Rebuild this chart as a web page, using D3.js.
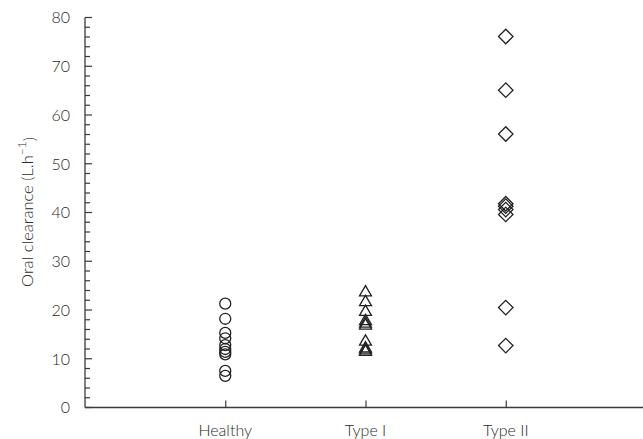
<!DOCTYPE html>
<html>
<head>
<meta charset="utf-8">
<script src="https://cdn.jsdelivr.net/npm/d3@7"></script>
<style>
  body { margin: 0; background: #fff; }
  text { font-family: Lato, "Open Sans", sans-serif; font-weight: 300; fill: #2a2a2a; }
</style>
</head>
<body>
<svg id="mysvg"></svg>
<script>
const w = 643, h = 439;

const groups = ["Healthy", "Type I", "Type II"];
const healthy = [21.3, 18.2, 15.3, 14.2, 12.8, 12.0, 11.4, 10.9, 7.5, 6.5];
const type1 = [23.8, 21.8, 19.8, 17.9, 17.4, 17.0, 13.7, 12.3, 11.9, 11.6];
const type2 = [76.1, 65.1, 56.1, 41.8, 41.3, 40.6, 39.6, 20.5, 12.7];
const yTicks = [0, 10, 20, 30, 40, 50, 60, 70, 80];

const svg = d3.select("#mysvg").attr("width", w).attr("height", h);

const xScale = d3.scaleLinear().domain([0, 4]).range([85, 646]);
const yScale = d3.scaleLinear().domain([0, 80]).range([407.5, 17.5]);

const ink = "#3a3a3a";

// Y axis ticks (minor every 2, major every 10), pointing inward
const yMinor = d3.range(0, 81, 2).filter(v => v % 10 !== 0);
svg.append("g").selectAll("line")
    .data(yMinor)
    .join("line")
    .attr("x1", 85).attr("x2", 90)
    .attr("y1", d => yScale(d)).attr("y2", d => yScale(d))
    .attr("stroke", ink).attr("stroke-width", 1.2);

svg.append("g").selectAll("line")
    .data(yTicks)
    .join("line")
    .attr("x1", 85).attr("x2", 92)
    .attr("y1", d => yScale(d)).attr("y2", d => yScale(d))
    .attr("stroke", ink).attr("stroke-width", 1.2);

svg.append("line")
    .attr("x1", 85).attr("x2", 85)
    .attr("y1", yScale(80)).attr("y2", yScale(0))
    .attr("stroke", ink).attr("stroke-width", 1.3);

svg.append("g")
    .selectAll("text")
    .data(yTicks)
    .join("text")
    .attr("x", 70)
    .attr("y", d => yScale(d))
    .attr("dy", "0.36em")
    .attr("text-anchor", "end")
    .attr("font-size", 16)
    .text(d => d);

// X axis
const xAxis = svg.append("g")
    .attr("transform", "translate(0," + yScale(0) + ")")
    .call(d3.axisTop(xScale).tickValues([1, 2, 3]).tickSize(7).tickSizeOuter(0).tickFormat(""));
xAxis.select(".domain").attr("stroke", ink).attr("stroke-width", 1.3).attr("d", "M85,0H643");
xAxis.selectAll("line").attr("stroke", ink).attr("stroke-width", 1.2);

svg.append("g")
    .selectAll("text")
    .data(groups)
    .join("text")
    .attr("x", (d, i) => xScale(i + 1))
    .attr("y", 436)
    .attr("text-anchor", "middle")
    .attr("font-size", 16)
    .text(d => d);

// Y label
const yl = svg.append("text")
    .attr("transform", "translate(33,212) rotate(-90)")
    .attr("text-anchor", "middle")
    .attr("font-size", 16.5);
yl.append("tspan").text("Oral clearance (L.h");
yl.append("tspan").attr("dy", "-0.55em").attr("font-size", 12).text("\u22121");
yl.append("tspan").attr("dy", "0.55em").text(")");

// Markers
const circle = d3.symbol().type(d3.symbolCircle).size(95);
const tri = d3.symbol().type(d3.symbolTriangle).size(62);
const diamond = d3.symbol().type(d3.symbolSquare).size(105);

svg.append("g").selectAll("path")
    .data(healthy)
    .join("path")
    .attr("d", circle)
    .attr("transform", d => `translate(${xScale(1)},${yScale(d)})`)
    .attr("fill", "none").attr("stroke", "#222").attr("stroke-width", 1.3);

svg.append("g").selectAll("path")
    .data(type1)
    .join("path")
    .attr("d", tri)
    .attr("transform", d => `translate(${xScale(2)},${yScale(d) + 1})`)
    .attr("fill", "none").attr("stroke", "#222").attr("stroke-width", 1.3);

svg.append("g").selectAll("path")
    .data(type2)
    .join("path")
    .attr("d", diamond)
    .attr("transform", d => `translate(${xScale(3)},${yScale(d)}) rotate(45)`)
    .attr("fill", "none").attr("stroke", "#222").attr("stroke-width", 1.3);
</script>
</body>
</html>
